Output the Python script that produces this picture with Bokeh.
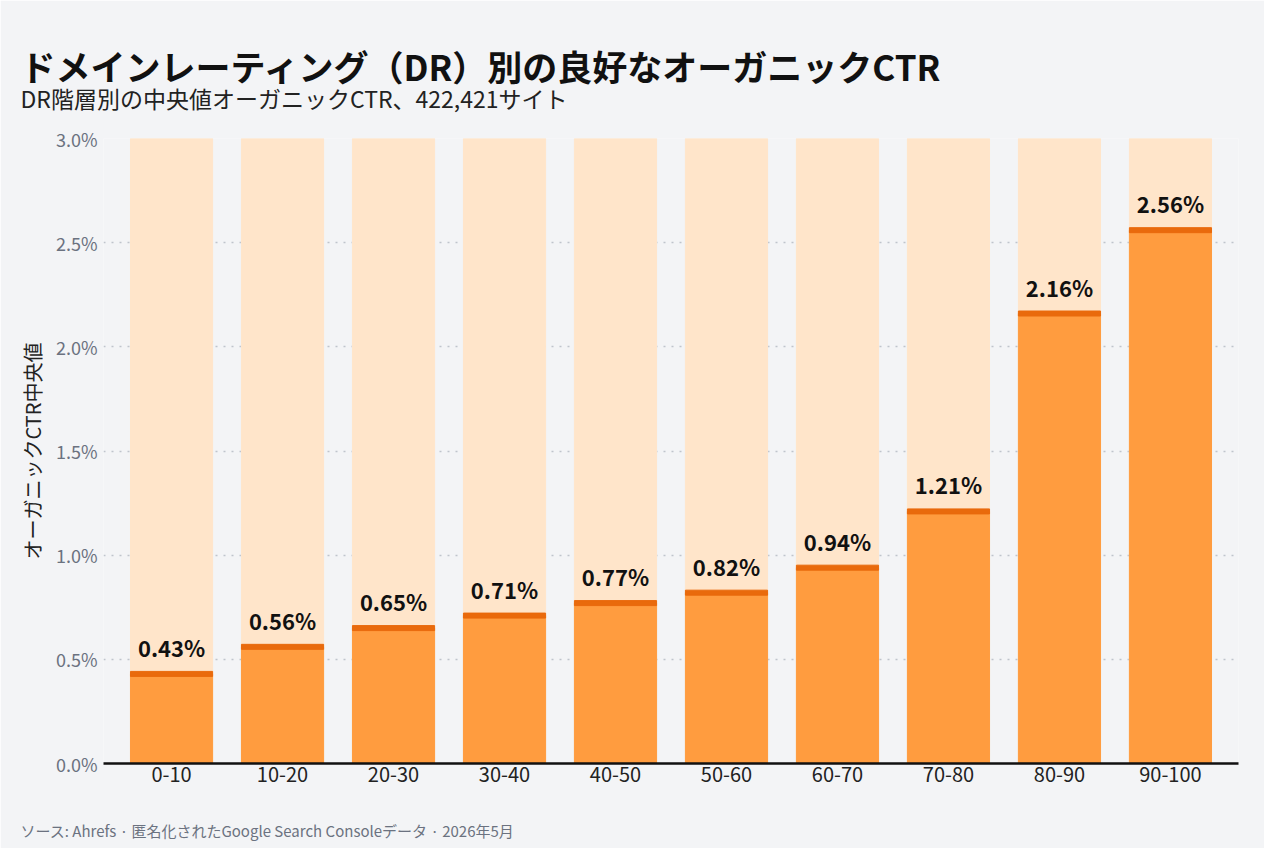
from bokeh.plotting import figure
from bokeh.models import FactorRange, Range1d, FixedTicker, PrintfTickFormatter, Title, ColumnDataSource
from bokeh.core.properties import value
from bokeh.embed import file_html
from bokeh.resources import INLINE

categories = ["0-10", "10-20", "20-30", "30-40", "40-50", "50-60", "60-70", "70-80", "80-90", "90-100"]
ctr = [0.43, 0.56, 0.65, 0.71, 0.77, 0.82, 0.94, 1.21, 2.16, 2.56]
ctr_labels = ["0.43%", "0.56%", "0.65%", "0.71%", "0.77%", "0.82%", "0.94%", "1.21%", "2.16%", "2.56%"]
y_ticks = [0.0, 0.5, 1.0, 1.5, 2.0, 2.5, 3.0]
y_max = 3.0

title = "ドメインレーティング（DR）別の良好なオーガニックCTR"
subtitle = "DR階層別の中央値オーガニックCTR、422,421サイト"
y_label = "オーガニックCTR中央値"
footer = "ソース: Ahrefs · 匿名化されたGoogle Search Consoleデータ · 2026年5月"

FONT = "Noto Sans CJK JP"
BG = "#F3F4F6"

src = ColumnDataSource(dict(cat=categories, ctr=ctr, lab=ctr_labels, full=[y_max] * len(categories)))

p = figure(width=1264, height=848, output_backend="svg", toolbar_location=None,
           x_range=FactorRange(factors=categories, range_padding=0.113, range_padding_units="absolute"),
           y_range=Range1d(0, y_max),
           min_border_left=103, min_border_right=26, min_border_top=138, min_border_bottom=85,
           background_fill_color=BG, border_fill_color=BG, outline_line_color=None)

p.vbar(x="cat", top="full", width=0.74, color="#FFE5CA", source=src)
p.vbar(x="cat", top="ctr", width=0.74, color="#FF9C3F", source=src)
p.rect(x="cat", y="ctr", width=0.74, height=5, height_units="screen", color="#E96A0C", source=src)
p.text(x="cat", y="ctr", text="lab", source=src, text_align="center", text_baseline="bottom",
       y_offset=-11, text_font=value(FONT), text_font_style="bold", text_font_size="22px", text_color="#111111")

p.xgrid.grid_line_color = None
p.ygrid.ticker = FixedTicker(ticks=y_ticks)
p.ygrid.grid_line_color = "#BFC4CC"
p.ygrid.grid_line_dash = "2 6"
p.ygrid.grid_line_width = 1.5
p.ygrid.level = "underlay"

p.yaxis.ticker = FixedTicker(ticks=y_ticks)
p.yaxis.formatter = PrintfTickFormatter(format="%.1f%%")
p.yaxis.axis_line_color = None
p.yaxis.major_tick_line_color = None
p.yaxis.minor_tick_line_color = None
p.yaxis.major_tick_out = 0
p.yaxis.major_tick_in = 0
p.yaxis.major_label_text_font = FONT
p.yaxis.major_label_text_font_size = "18px"
p.yaxis.major_label_text_color = "#6B7280"
p.yaxis.major_label_standoff = 6
p.yaxis.axis_label = y_label
p.yaxis.axis_label_text_font = FONT
p.yaxis.axis_label_text_font_size = "20px"
p.yaxis.axis_label_text_font_style = "normal"
p.yaxis.axis_label_text_color = "#222222"
p.yaxis.axis_label_standoff = 6

p.xaxis.axis_line_color = "#111111"
p.xaxis.axis_line_width = 2.5
p.xaxis.major_tick_line_color = None
p.xaxis.minor_tick_line_color = None
p.xaxis.major_tick_out = 0
p.xaxis.major_tick_in = 0
p.xaxis.major_label_text_font = FONT
p.xaxis.major_label_text_font_size = "20px"
p.xaxis.major_label_text_color = "#222222"
p.xaxis.major_label_standoff = 3

# above panels (closest to the plot first): spacer, subtitle, title
p.add_layout(Title(text=" ", text_font=FONT, text_font_size="10px", standoff=7), "above")
p.add_layout(Title(text=subtitle, align="left", offset=-83, text_font=FONT, text_font_size="23px",
                   text_font_style="normal", text_color="#222222", standoff=0), "above")
p.add_layout(Title(text=title, align="left", offset=-83, text_font=FONT, text_font_size="35px",
                   text_font_style="bold", text_color="#111111", standoff=-24), "above")
# below panels: spacer, footer
p.add_layout(Title(text=" ", text_font=FONT, text_font_size="10px", standoff=8), "below")
p.add_layout(Title(text=footer, align="left", offset=-83, text_font=FONT, text_font_size="15px",
                   text_font_style="normal", text_color="#6B7280", standoff=16), "below")

open("out.html", "w").write(file_html(p, INLINE))
